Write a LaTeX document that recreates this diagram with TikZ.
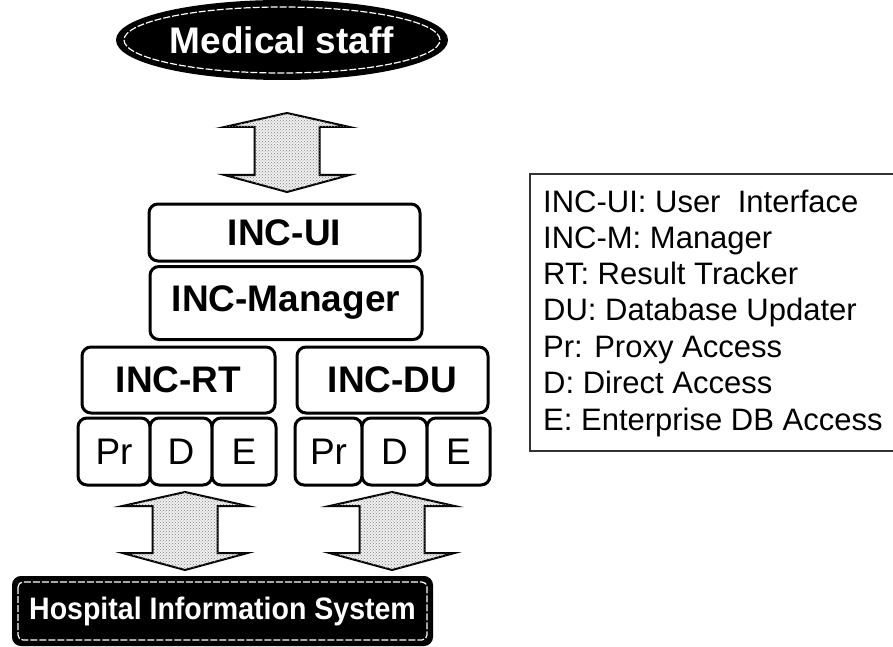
\documentclass[tikz,border=0pt]{standalone}
\usepackage{fontspec}
\setmainfont{Liberation Sans}
\usetikzlibrary{shapes.geometric,patterns}
\tikzset{
  box/.style={draw=black, line width=3pt, rounded corners=9pt, fill=white, inner sep=0pt,
    font=\fontsize{37}{40}\selectfont\bfseries},
  cell/.style={draw=black, line width=3pt, rounded corners=9pt, fill=white, inner sep=0pt,
    font=\fontsize{37}{40}\selectfont},
  barrow/.style={draw=black, line width=2pt, fill=gray!12, postaction={pattern=crosshatch dots, pattern color=black!50}},
  legend/.style={anchor=base west, inner sep=0pt, font=\fontsize{31}{36}\selectfont},
  darkbox/.style={fill=black, draw=black, line width=2pt, text=white, inner sep=0pt,
    font=\fontsize{37}{40}\selectfont\bfseries},
  whiteline/.style={draw=white, line width=1.2pt, dash pattern=on 7pt off 2pt}
}
\newcommand\blkarrow[3]{%
  \draw[barrow] (#1,#2) -- (#1+62.5,#2+14) -- (#1+32.5,#2+14) -- (#1+32.5,#3-17)
    -- (#1+62.5,#3-17) -- (#1,#3) -- (#1-62.5,#3-17) -- (#1-32.5,#3-17)
    -- (#1-32.5,#2+14) -- (#1-62.5,#2+14) -- cycle;}
\begin{document}
\begin{tikzpicture}[x=1pt,y=-1pt]
\useasboundingbox (0,0) rectangle (893,647);
\fill[white] (0,0) rectangle (893,647);

% Medical staff
\node[darkbox, ellipse, minimum width=330pt, minimum height=78pt] (ms) at (282,40) {Medical staff};
\draw[whiteline] (ms.center) ellipse (158pt and 33pt);

% arrow top
\blkarrow{287}{113}{192}

% boxes
\node[box, minimum width=271pt, minimum height=57pt] (ui) at (284.5,232.5) {INC-UI};
\node[box, minimum width=272pt, minimum height=73pt] (mgr) at (286,303) {INC-Manager};
\node[box, minimum width=193pt, minimum height=66pt] (rt) at (178.5,380) {INC-RT};
\node[box, minimum width=191pt, minimum height=66pt] (du) at (392.5,380) {INC-DU};

\node[cell, minimum width=72pt, minimum height=67pt] (rtpr) at (114,451.5) {Pr};
\node[cell, minimum width=62pt, minimum height=67pt] (rtd) at (181,451.5) {D};
\node[cell, minimum width=64pt, minimum height=67pt] (rte) at (244,451.5) {E};
\node[cell, minimum width=67pt, minimum height=67pt] (dupr) at (328.5,451.5) {Pr};
\node[cell, minimum width=65pt, minimum height=67pt] (dud) at (394.5,451.5) {D};
\node[cell, minimum width=63pt, minimum height=67pt] (due) at (458.5,451.5) {E};

% bottom arrows
\blkarrow{185}{492}{570}
\blkarrow{392}{492}{570}

% Hospital Information System
\node[darkbox, rounded corners=8pt, minimum width=419pt, minimum height=68pt,
  font=\fontsize{31}{34}\selectfont\bfseries] (his) at (222.5,611) {\scalebox{0.92}[1]{Hospital Information System}};
\draw[whiteline, rounded corners=5pt] ([xshift=6pt,yshift=-6pt]his.north west) rectangle ([xshift=-6pt,yshift=6pt]his.south east);

% legend
\draw[line width=1.5pt, draw=black!80] (530,174) rectangle (905,451);
\node[legend] (l1) at (543,212) {INC-UI: User\ \ Interface};
\node[legend] (l2) at (543,248.3) {INC-M: Manager};
\node[legend] (l3) at (543,284.6) {RT: Result Tracker};
\node[legend] (l4) at (543,320.9) {DU: Database Updater};
\node[legend] (l5) at (543,357.2) {Pr: Proxy Access};
\node[legend] (l6) at (543,393.5) {D: Direct Access};
\node[legend] (l7) at (543,430) {E: Enterprise DB Access};
\end{tikzpicture}
\end{document}
